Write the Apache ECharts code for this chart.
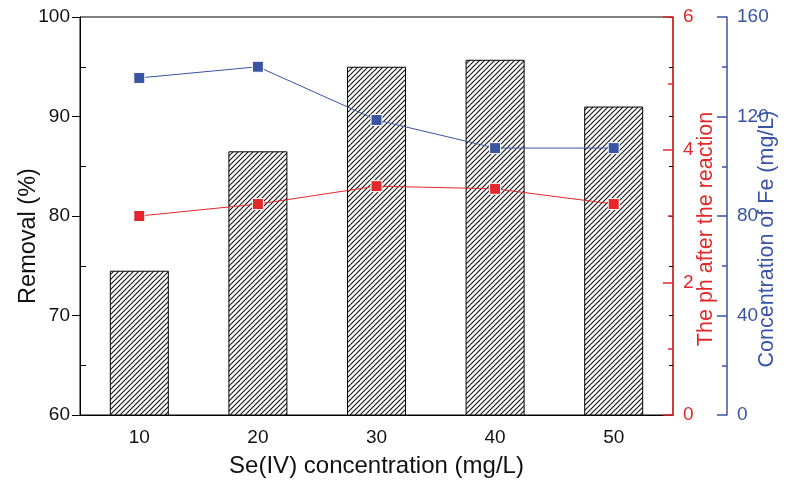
<!DOCTYPE html>
<html>
<head>
<meta charset="utf-8">
<script src="https://cdn.jsdelivr.net/npm/echarts@6/dist/echarts.min.js"></script>
<style>
html,body{margin:0;padding:0;background:#fff;}
#chart{width:787px;height:480px;}
</style>
</head>
<body>
<div id="chart"></div>
<script>
const categories = ['10', '20', '30', '40', '50'];
const removal = [74.5, 86.5, 95.0, 95.7, 91.0];
const phAfter = [3.0, 3.18, 3.45, 3.41, 3.18];
const feConc = [135.5, 140, 118.6, 107.3, 107.3];

const RED = '#e3272b';
const BLUE = '#3a54a5';
const FONT = 'Liberation Sans, Arial, sans-serif';

// hatch pattern
const P = 5;
const pc = document.createElement('canvas');
pc.width = P * 2; pc.height = P * 2;
const ctx = pc.getContext('2d');
ctx.fillStyle = '#fff';
ctx.fillRect(0, 0, P * 2, P * 2);
ctx.strokeStyle = '#111';
ctx.lineWidth = 1.1;
for (let k = -3; k <= 3; k++) {
  ctx.beginPath();
  ctx.moveTo(k * P - 2, P * 2 + 2);
  ctx.lineTo(k * P + P * 2 + 2, -2);
  ctx.stroke();
}

const chart = echarts.init(document.getElementById('chart'), null, {renderer: 'canvas'});
const labelStyle = {fontFamily: FONT, fontSize: 19, color: '#111'};

chart.setOption({
  animation: false,
  backgroundColor: '#fff',
  grid: {left: 80, right: 114, top: 17, bottom: 65, containLabel: false, outerBoundsMode: 'none',
    show: true, borderColor: '#000', borderWidth: 1, backgroundColor: 'transparent'},
  xAxis: [{
    type: 'category',
    data: categories,
    boundaryGap: true,
    axisLine: {lineStyle: {color: '#000', width: 1}},
    axisTick: {show: true, inside: true, length: 8, alignWithLabel: true, lineStyle: {color: '#000'}},
    axisLabel: Object.assign({margin: 13}, labelStyle),
    name: 'Se(IV) concentration (mg/L)',
    nameLocation: 'middle',
    nameGap: 39,
    nameMoveOverlap: false,
    nameTextStyle: {fontFamily: FONT, fontSize: 24, color: '#111'},
    splitLine: {show: false}
  }],
  yAxis: [
    {
      type: 'value', position: 'left', min: 60, max: 100, interval: 10,
      axisLine: {show: true, lineStyle: {color: '#000', width: 1}},
      axisTick: {show: true, inside: false, length: 8, lineStyle: {color: '#000'}},
      axisLabel: Object.assign({margin: 10}, labelStyle),
      splitLine: {show: false},
      name: 'Removal (%)', nameLocation: 'middle', nameRotate: 90, nameGap: 39,
      nameMoveOverlap: false,
      nameTextStyle: {fontFamily: FONT, fontSize: 23.5, color: '#111', padding: [0, 40, 0, 0]}
    },
    {
      type: 'value', position: 'left', min: 60, max: 100, interval: 10,
      axisLine: {show: false},
      axisTick: {show: false, inside: true},
      minorTick: {show: true, splitNumber: 2, length: 6, lineStyle: {color: '#000', width: 1}},
      axisLabel: {show: false},
      splitLine: {show: false}
    },
    {
      type: 'value', position: 'right', offset: 0, min: 60, max: 100, interval: 5,
      axisLine: {show: false},
      axisTick: {show: true, inside: true, length: 4, lineStyle: {color: '#000'}},
      axisLabel: {show: false},
      splitLine: {show: false}
    },
    {
      type: 'value', position: 'right', offset: 0, min: 0, max: 6, interval: 2,
      axisLine: {show: true, lineStyle: {color: RED, width: 1.5}},
      axisTick: {show: true, inside: true, length: 10, lineStyle: {color: RED, width: 1.5}},
      minorTick: {show: true, splitNumber: 2, length: 5, lineStyle: {color: RED, width: 1.5}},
      axisLabel: {margin: 10, fontFamily: FONT, fontSize: 19, color: RED},
      splitLine: {show: false},
      name: 'The ph after the reaction', nameLocation: 'middle', nameRotate: 90, nameGap: 22,
      nameMoveOverlap: false,
      nameTextStyle: {fontFamily: FONT, fontSize: 21.5, color: RED, padding: [0, 26, 0, 0]}
    },
    {
      type: 'value', position: 'right', offset: 54, min: 0, max: 160, interval: 40,
      axisLine: {show: true, lineStyle: {color: BLUE, width: 1.5}},
      axisTick: {show: true, inside: true, length: 10, lineStyle: {color: BLUE, width: 1.5}},
      minorTick: {show: true, splitNumber: 2, length: 5, lineStyle: {color: BLUE, width: 1.5}},
      axisLabel: {margin: 10, fontFamily: FONT, fontSize: 19, color: BLUE},
      splitLine: {show: false},
      name: 'Concentration of Fe (mg/L)', nameLocation: 'middle', nameRotate: 90, nameGap: 29,
      nameMoveOverlap: false,
      nameTextStyle: {fontFamily: FONT, fontSize: 21.5, color: BLUE, padding: [0, 46, 0, 0]}
    }
  ],
  series: [
    {
      type: 'bar', yAxisIndex: 0, data: removal, barWidth: 59,
      itemStyle: {color: {image: pc, repeat: 'repeat'}, borderColor: '#000', borderWidth: 1}
    },
    {
      type: 'line', yAxisIndex: 3, data: phAfter,
      symbol: 'rect', symbolSize: 11,
      itemStyle: {color: RED, borderColor: '#fff', borderWidth: 1},
      lineStyle: {color: RED, width: 1}
    },
    {
      type: 'line', yAxisIndex: 4, data: feConc,
      symbol: 'rect', symbolSize: 11,
      itemStyle: {color: BLUE, borderColor: '#fff', borderWidth: 1},
      lineStyle: {color: BLUE, width: 1}
    }
  ]
});
</script>
</body>
</html>
